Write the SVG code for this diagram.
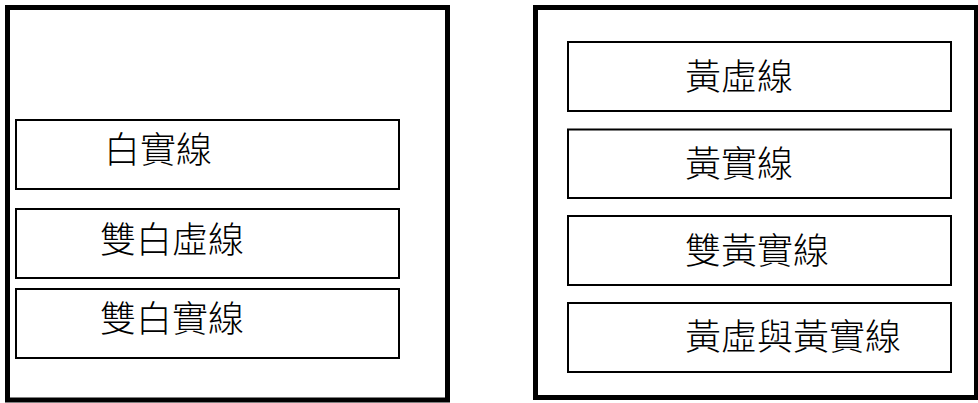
<svg xmlns="http://www.w3.org/2000/svg" width="978" height="403" viewBox="0 0 978 403">
<style>
.outer{fill:none;stroke:#000;stroke-width:5}
.box{fill:#fff;stroke:#000;stroke-width:2}
.lbl{font-family:"Noto Sans CJK TC","Noto Sans CJK SC",sans-serif;font-size:36px;font-weight:300;fill:#000}
</style>
<rect width="978" height="403" fill="#fff"/>
<g id="left-panel">
<rect class="outer" x="7.5" y="7.5" width="440" height="392.5"/>
</g>
<g id="right-panel">
<rect class="outer" x="535.5" y="7.5" width="441" height="390"/>
</g>
<g id="n1"><rect class="box" x="16" y="120" width="383" height="69"/><text class="lbl" x="104" y="163">白實線</text></g>
<g id="n2"><rect class="box" x="16" y="209" width="383" height="69"/><text class="lbl" x="100" y="253">雙白虛線</text></g>
<g id="n3"><rect class="box" x="16" y="289" width="383" height="69"/><text class="lbl" x="100" y="332">雙白實線</text></g>
<g id="n4"><rect class="box" x="568" y="42" width="383" height="69"/><text class="lbl" x="685" y="90">黃虛線</text></g>
<g id="n5"><rect class="box" x="568" y="129.5" width="383" height="68.5"/><text class="lbl" x="685" y="177">黃實線</text></g>
<g id="n6"><rect class="box" x="568" y="216" width="383" height="69"/><text class="lbl" x="685" y="264">雙黃實線</text></g>
<g id="n7"><rect class="box" x="568" y="303" width="383" height="69"/><text class="lbl" x="685" y="350">黃虛與黃實線</text></g>
<g id="connectors"/>
</svg>
